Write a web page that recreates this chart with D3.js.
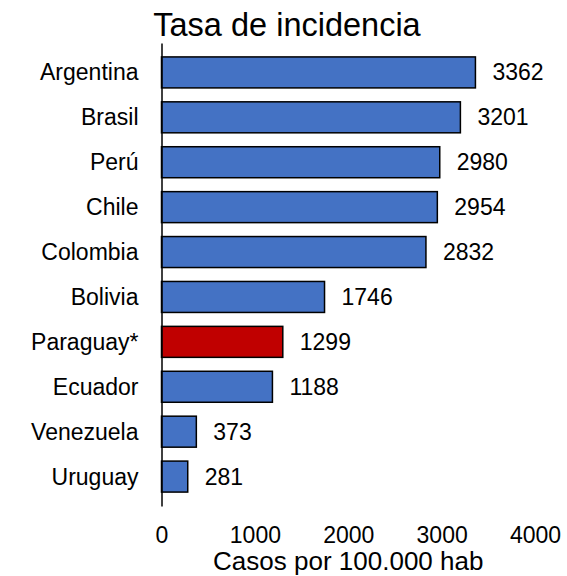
<!DOCTYPE html>
<html lang="es">
<head>
  <meta charset="utf-8">
  <title>Tasa de incidencia</title>
  <script src="https://cdn.jsdelivr.net/npm/d3@7"></script>
  <style>
    body { margin: 0; background: #fff; }
    text { font-family: "Liberation Sans", Arial, sans-serif; fill: #000; }
  </style>
</head>
<body>
  <div id="chart"></div>
  <script>
    // datos
    var paises = ["Argentina", "Brasil", "Perú", "Chile", "Colombia", "Bolivia", "Paraguay*", "Ecuador", "Venezuela", "Uruguay"];
    var tasas = [3362, 3201, 2980, 2954, 2832, 1746, 1299, 1188, 373, 281];
    var destacado = "Paraguay*";
    var ticks = [0, 1000, 2000, 3000, 4000];

    var width = 567, height = 576;

    var svg = d3.select("#chart").append("svg")
      .attr("width", width)
      .attr("height", height);

    var x = d3.scaleLinear().domain([0, 4000]).range([161.5, 535]);
    var y = d3.scaleBand().domain(paises).range([43, 506]).padding(0.31);

    // barras
    svg.append("g").selectAll("rect")
      .data(paises)
      .enter().append("rect")
      .attr("x", x(0))
      .attr("y", function (d) { return y(d); })
      .attr("width", function (d, i) { return x(tasas[i]) - x(0); })
      .attr("height", y.bandwidth())
      .attr("fill", function (d) { return d == destacado ? "#C00000" : "#4472C4"; })
      .attr("stroke", "#000")
      .attr("stroke-width", 1.5);

    // valores
    svg.append("g").selectAll("text")
      .data(paises)
      .enter().append("text")
      .attr("x", function (d, i) { return x(tasas[i]) + 17; })
      .attr("y", function (d) { return y(d) + y.bandwidth() / 2; })
      .attr("dy", "0.35em")
      .style("font-size", "23px")
      .text(function (d, i) { return tasas[i]; });

    // eje y
    var yAxis = svg.append("g")
      .attr("transform", "translate(" + x(0) + ",0)")
      .call(d3.axisLeft(y).tickSize(0).tickPadding(23));
    yAxis.select(".domain").attr("stroke", "#000").attr("stroke-width", 1.5);
    yAxis.selectAll("text").style("font-size", "23px").attr("dy", "0.35em");

    // eje x (sin línea)
    var xAxis = svg.append("g")
      .attr("transform", "translate(0,543)")
      .call(d3.axisBottom(x).tickValues(ticks).tickSize(0).tickPadding(0).tickFormat(d3.format("d")));
    xAxis.select(".domain").remove();
    xAxis.selectAll("text").style("font-size", "23px").attr("y", 0).attr("dy", 0);

    svg.append("text")
      .attr("x", x(2000))
      .attr("y", 569.5)
      .attr("text-anchor", "middle")
      .style("font-size", "26px")
      .text("Casos por 100.000 hab");

    svg.append("text")
      .attr("x", 287)
      .attr("y", 36)
      .attr("text-anchor", "middle")
      .style("font-size", "32.5px")
      .text("Tasa de incidencia");
  </script>
</body>
</html>
